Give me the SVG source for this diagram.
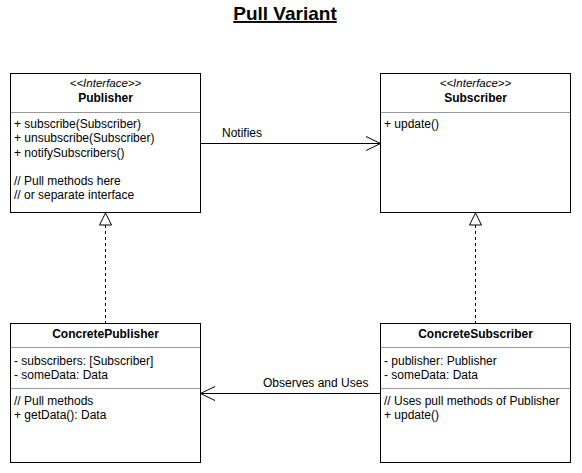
<svg xmlns="http://www.w3.org/2000/svg" width="582" height="473" viewBox="0 0 582 473">
<style>
text{font-family:"Liberation Sans",Arial,sans-serif;font-size:12px;fill:#000}
.box{fill:#fff;stroke:#000;stroke-width:1}
.div{stroke:#999;stroke-width:1}
.st{font-size:11.5px;font-style:italic}
.nm{font-weight:bold;text-anchor:middle}
.ln{stroke:#000;stroke-width:1;fill:none}
.dash{stroke-dasharray:3,3}
.tri{fill:#fff;stroke:#000;stroke-width:1}
</style>
<rect width="582" height="473" fill="#fff"/>
<text x="285" y="20" text-anchor="middle" style="font-size:19px;font-weight:bold;text-decoration:underline">Pull Variant</text>
<g id="connectors">
<path class="ln" d="M200.5,143.5 H380.5"/>
<path class="ln" d="M366,136.5 L380.5,143.5 L366,150.5"/>
<text x="222" y="137">Notifies</text>
<path class="ln" d="M380.5,393.5 H200.5"/>
<path class="ln" d="M215,386.5 L200.5,393.5 L215,400.5"/>
<text x="263" y="387">Observes and Uses</text>
<path class="ln dash" d="M105.5,225 V323"/>
<path class="tri" d="M105.5,213 L111.5,225 L99.5,225 Z"/>
<path class="ln dash" d="M475.5,225 V323"/>
<path class="tri" d="M475.5,213 L481.5,225 L469.5,225 Z"/>
</g>
<g id="publisher">
<rect class="box" x="10.5" y="73.5" width="190" height="139"/>
<text class="st" x="105.5" y="87" text-anchor="middle">&lt;&lt;Interface&gt;&gt;</text>
<text class="nm" x="105.5" y="102">Publisher</text>
<line class="div" x1="11" y1="112.5" x2="200" y2="112.5"/>
<text x="14" y="128">+ subscribe(Subscriber)</text>
<text x="14" y="142">+ unsubscribe(Subscriber)</text>
<text x="14" y="157">+ notifySubscribers()</text>
<text x="14" y="185">// Pull methods here</text>
<text x="14" y="199">// or separate interface</text>
</g>
<g id="subscriber">
<rect class="box" x="380.5" y="73.5" width="190" height="139"/>
<text class="st" x="475.5" y="87" text-anchor="middle">&lt;&lt;Interface&gt;&gt;</text>
<text class="nm" x="475.5" y="102">Subscriber</text>
<line class="div" x1="381" y1="112.5" x2="570" y2="112.5"/>
<text x="384" y="128">+ update()</text>
</g>
<g id="concretepublisher">
<rect class="box" x="10.5" y="323.5" width="190" height="139"/>
<text class="nm" x="105.5" y="338">ConcretePublisher</text>
<line class="div" x1="11" y1="347.5" x2="200" y2="347.5"/>
<text x="14" y="365">- subscribers: [Subscriber]</text>
<text x="14" y="379">- someData: Data</text>
<line class="div" x1="11" y1="388.5" x2="200" y2="388.5"/>
<text x="14" y="405">// Pull methods</text>
<text x="14" y="419">+ getData(): Data</text>
</g>
<g id="concretesubscriber">
<rect class="box" x="380.5" y="323.5" width="190" height="139"/>
<text class="nm" x="475.5" y="338">ConcreteSubscriber</text>
<line class="div" x1="381" y1="347.5" x2="570" y2="347.5"/>
<text x="384" y="365">- publisher: Publisher</text>
<text x="384" y="379">- someData: Data</text>
<line class="div" x1="381" y1="388.5" x2="570" y2="388.5"/>
<text x="384" y="405">// Uses pull methods of Publisher</text>
<text x="384" y="419">+ update()</text>
</g>
</svg>
